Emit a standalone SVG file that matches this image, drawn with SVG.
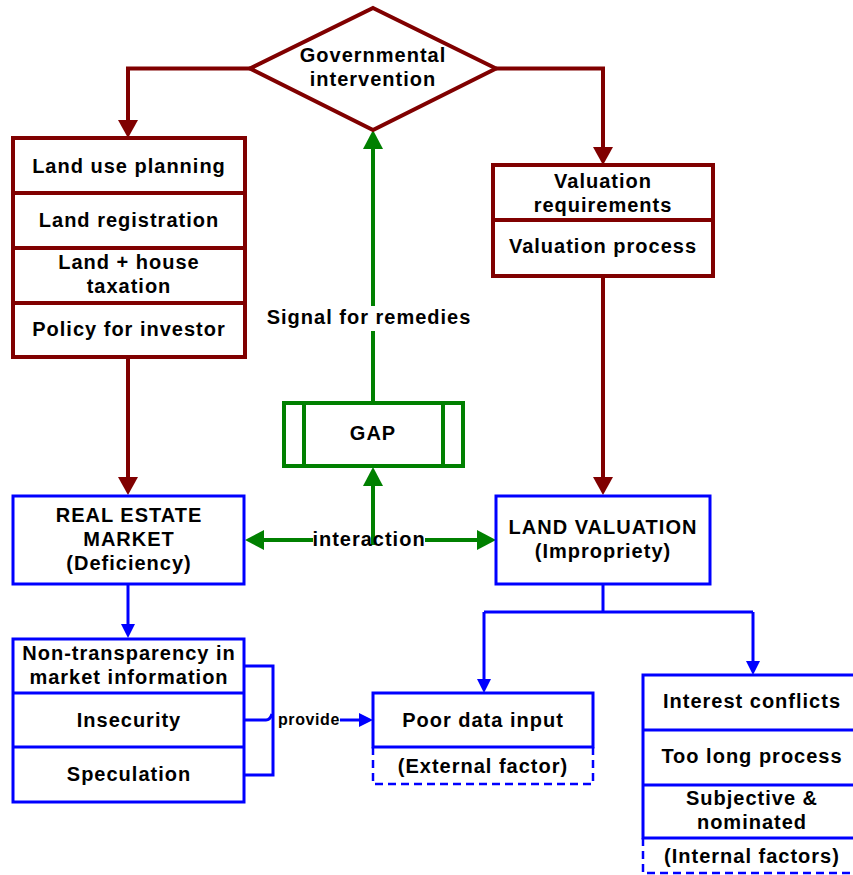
<svg xmlns="http://www.w3.org/2000/svg" width="853" height="875" viewBox="0 0 853 875">
  <style>
    text { font-family: "Liberation Sans", Arial, sans-serif; font-weight: bold; font-size: 20px; letter-spacing: 1px; fill: #000; text-anchor: middle; }
    .small { font-size: 16px; letter-spacing: 0.6px; }
    .red { fill: #fff; stroke: #800000; stroke-width: 4; }
    .redline { fill: none; stroke: #800000; stroke-width: 4; }
    .green { fill: #fff; stroke: #008000; stroke-width: 4; }
    .greenline { fill: none; stroke: #008000; stroke-width: 4; }
    .blue { fill: #fff; stroke: #0000ff; stroke-width: 3; }
    .blueline { fill: none; stroke: #0000ff; stroke-width: 3; }
    .dashed { fill: none; stroke: #0000ff; stroke-width: 2.5; stroke-dasharray: 8 5; }
  </style>
  <defs>
    <marker id="arrRed" markerUnits="userSpaceOnUse" markerWidth="18" markerHeight="20" refX="0" refY="10" orient="auto">
      <path d="M0,0 L18,10 L0,20 z" fill="#800000"/>
    </marker>
    <marker id="arrGreen" markerUnits="userSpaceOnUse" markerWidth="19" markerHeight="20" refX="0" refY="10" orient="auto">
      <path d="M0,0 L19,10 L0,20 z" fill="#008000"/>
    </marker>
    <marker id="arrBlue" markerUnits="userSpaceOnUse" markerWidth="14" markerHeight="14" refX="0" refY="7" orient="auto">
      <path d="M0,0 L14,7 L0,14 z" fill="#0000ff"/>
    </marker>
  </defs>

  <!-- connectors -->
  <g id="connectors">
    <path class="redline" d="M250,68.5 H128 V120" marker-end="url(#arrRed)"/>
    <path class="redline" d="M496,68.5 H603 V147" marker-end="url(#arrRed)"/>
    <path class="redline" d="M128,357 V477" marker-end="url(#arrRed)"/>
    <path class="redline" d="M603,276 V477" marker-end="url(#arrRed)"/>

    <!-- GAP up to the decision, broken by its label -->
    <path class="greenline" d="M373,403 V149" marker-end="url(#arrGreen)"/>
    <!-- two-way interaction between the market and valuation -->
    <path class="greenline" d="M313,540 H264" marker-end="url(#arrGreen)"/>
    <path class="greenline" d="M425,540 H477" marker-end="url(#arrGreen)"/>
    <path class="greenline" d="M373,545 V486" marker-end="url(#arrGreen)"/>

    <path class="blueline" d="M128,584 V624" marker-end="url(#arrBlue)"/>
    <path class="blueline" d="M603,584 V612 M484,612 H753"/>
    <path class="blueline" d="M484,612 V679" marker-end="url(#arrBlue)"/>
    <path class="blueline" d="M753,612 V661" marker-end="url(#arrBlue)"/>
    <!-- bracket gathering the three market issues, with a line jump -->
    <path class="blueline" d="M244,666 H273 V775 H244"/>
    <path class="blueline" d="M244,720 H266 Q270,720 272,714"/>
    <path class="blueline" d="M340,720 H359" marker-end="url(#arrBlue)"/>
  </g>
  <g id="connector-labels">
    <rect x="268" y="306" width="206" height="25" fill="#fff"/>
    <text x="369" y="324">Signal for remedies</text>
    <text x="369" y="546">interaction</text>
    <text class="small" x="309" y="725">provide</text>
  </g>

  <!-- decision -->
  <g id="governmental-intervention">
    <polygon class="red" points="373,8 496,68.5 373,130 250,68.5"/>
    <text x="373" y="62">Governmental</text>
    <text x="373" y="86">intervention</text>
  </g>

  <!-- policy instruments -->
  <g id="policy-stack">
    <rect class="red" x="13" y="138" width="232" height="219"/>
    <path class="redline" d="M13,193 H245 M13,248 H245 M13,303 H245"/>
    <text x="129" y="173">Land use planning</text>
    <text x="129" y="227">Land registration</text>
    <text x="129" y="269">Land + house</text>
    <text x="129" y="293">taxation</text>
    <text x="129" y="336">Policy for investor</text>
  </g>

  <g id="valuation-stack">
    <rect class="red" x="493" y="165" width="220" height="111"/>
    <path class="redline" d="M493,220 H713"/>
    <text x="603" y="188">Valuation</text>
    <text x="603" y="212">requirements</text>
    <text x="603" y="253">Valuation process</text>
  </g>

  <g id="gap">
    <rect class="green" x="284" y="403" width="179" height="63"/>
    <path class="greenline" d="M304,403 V466 M443,403 V466"/>
    <text x="373" y="440">GAP</text>
  </g>

  <g id="real-estate-market">
    <rect class="blue" x="13" y="496" width="231" height="88"/>
    <text x="129" y="522">REAL ESTATE</text>
    <text x="129" y="546">MARKET</text>
    <text x="129" y="570">(Deficiency)</text>
  </g>

  <g id="land-valuation">
    <rect class="blue" x="496" y="496" width="214" height="88"/>
    <text x="603" y="534">LAND VALUATION</text>
    <text x="603" y="558">(Impropriety)</text>
  </g>

  <g id="market-issues">
    <rect class="blue" x="13" y="639" width="231" height="163"/>
    <path class="blueline" d="M13,693 H244 M13,747 H244"/>
    <text x="129" y="660">Non-transparency in</text>
    <text x="129" y="684">market information</text>
    <text x="129" y="727">Insecurity</text>
    <text x="129" y="781">Speculation</text>
  </g>

  <g id="poor-data-input">
    <path class="dashed" d="M373,747 V784 H593 V747"/>
    <rect class="blue" x="373" y="693" width="220" height="54"/>
    <text x="483" y="727">Poor data input</text>
    <text x="483" y="773">(External factor)</text>
  </g>

  <g id="internal-factors">
    <path class="dashed" d="M643,838 V873 H865"/>
    <rect class="blue" x="643" y="675" width="222" height="163"/>
    <path class="blueline" d="M643,730 H865 M643,785 H865"/>
    <text x="752" y="708">Interest conflicts</text>
    <text x="752" y="763">Too long process</text>
    <text x="752" y="805">Subjective &amp;</text>
    <text x="752" y="829">nominated</text>
    <text x="752" y="863">(Internal factors)</text>
  </g>
</svg>
